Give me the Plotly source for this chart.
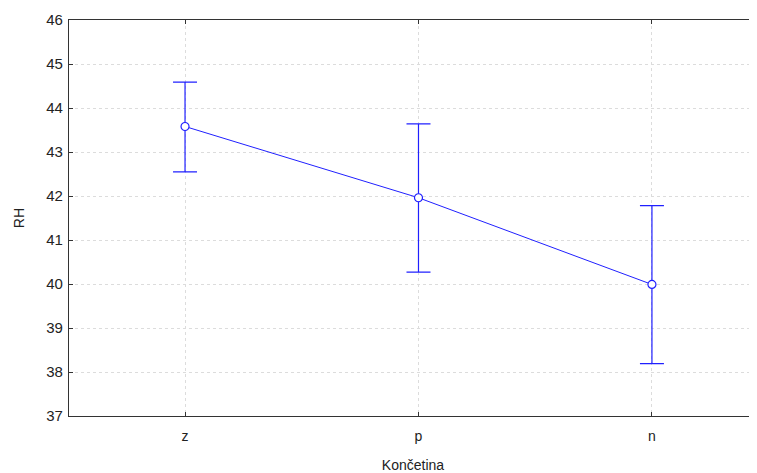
import plotly.graph_objects as go

categories = ["z", "p", "n"]
means = [43.58, 41.96, 39.99]
upper = [44.59, 43.64, 41.78]
lower = [42.55, 40.27, 38.19]

x_pos = list(range(len(categories)))
err_plus = [u - m for u, m in zip(upper, means)]
err_minus = [m - l for m, l in zip(means, lower)]

blue = "#2020ff"
fig = go.Figure()
fig.add_trace(go.Scatter(
    x=x_pos, y=means, mode="lines+markers",
    line=dict(color=blue, width=1),
    marker=dict(symbol="circle", size=8, color="white", line=dict(color=blue, width=1.2)),
    error_y=dict(type="data", symmetric=False, array=err_plus, arrayminus=err_minus,
                 color=blue, thickness=1.2, width=12),
    showlegend=False,
))

font = "Liberation Sans, Arial, sans-serif"
# page body has an 8px margin, so the figure is shrunk by 8px and margins offset
fig.update_layout(
    width=749, height=465,
    margin=dict(l=61, r=0, t=12, b=57),
    paper_bgcolor="white", plot_bgcolor="white",
    font=dict(family=font, size=14, color="#222222"),
)
fig.update_xaxes(
    range=[-0.497, 2.45], tickvals=x_pos, ticktext=categories,
    showline=True, linecolor="#333333", linewidth=1.2, mirror="ticks",
    ticks="inside", ticklen=4, tickcolor="#333333",
    showgrid=True, gridcolor="#dcdcdc", griddash="dot", gridwidth=1,
    zeroline=False,
    ticklabelstandoff=7,
    title=dict(text="Končetina", font=dict(size=14), standoff=20),
    tickfont=dict(size=14),
)
fig.update_yaxes(
    range=[37, 46], dtick=1,
    showline=True, linecolor="#333333", linewidth=1.2, mirror=False,
    ticks="inside", ticklen=4, tickcolor="#333333",
    showgrid=True, gridcolor="#dcdcdc", griddash="dot", gridwidth=1,
    zeroline=False,
    ticklabelstandoff=2,
    title=dict(text="RH", font=dict(size=14), standoff=18),
    tickfont=dict(size=15),
)
fig.write_html("out.html")
